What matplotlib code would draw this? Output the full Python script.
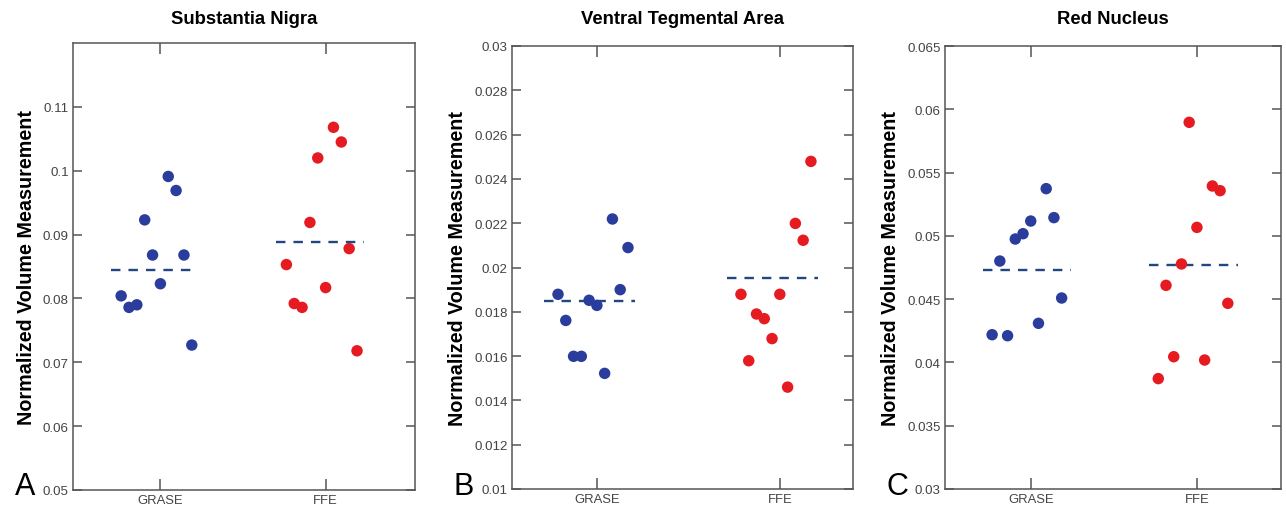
import matplotlib
matplotlib.use("Agg")
import matplotlib.pyplot as plt
import numpy as np

plt.rcParams['font.family'] = ['Liberation Sans', 'DejaVu Sans']

categories = ["GRASE", "FFE"]
titles = ["Substantia Nigra", "Ventral Tegmental Area", "Red Nucleus"]
panel_letters = ["A", "B", "C"]

# Substantia Nigra
sn_grase = [0.0804, 0.0786, 0.0790, 0.0923, 0.0868, 0.0823, 0.0991, 0.0969, 0.0868, 0.0727]
sn_ffe = [0.0853, 0.0792, 0.0786, 0.0919, 0.1020, 0.0817, 0.1068, 0.1045, 0.0878, 0.0718]
sn_lines = [0.0845, 0.0888]
sn_ticks = [0.05, 0.06, 0.07, 0.08, 0.09, 0.1, 0.11]
sn_ticklabels = ["0.05", "0.06", "0.07", "0.08", "0.09", "0.1", "0.11"]

# Ventral Tegmental Area
vta_grase = [0.01879, 0.01761, 0.01599, 0.01599, 0.01852, 0.01829, 0.01522, 0.02219, 0.0190, 0.02090]
vta_ffe = [0.01879, 0.01579, 0.0179, 0.01769, 0.01679, 0.01879, 0.01460, 0.02199, 0.02123, 0.02479]
vta_lines = [0.01849, 0.01953]
vta_ticks = [0.01, 0.012, 0.014, 0.016, 0.018, 0.02, 0.022, 0.024, 0.026, 0.028, 0.03]
vta_ticklabels = ["0.01", "0.012", "0.014", "0.016", "0.018", "0.02", "0.022",
                  "0.024", "0.026", "0.028", "0.03"]

# Red Nucleus
rn_grase = [0.04219, 0.04801, 0.04211, 0.04975, 0.05017, 0.05117, 0.04309, 0.05373, 0.05144, 0.04509]
rn_ffe = [0.03872, 0.04609, 0.04045, 0.04778, 0.05897, 0.05067, 0.04019, 0.05394, 0.05357, 0.04467]
rn_lines = [0.04733, 0.04767]
rn_ticks = [0.03, 0.035, 0.04, 0.045, 0.05, 0.055, 0.06, 0.065]
rn_ticklabels = ["0.03", "0.035", "0.04", "0.045", "0.05", "0.055", "0.06", "0.065"]

panels = [
    dict(g=sn_grase, f=sn_ffe, lines=sn_lines, ticks=sn_ticks, tl=sn_ticklabels,
         ylim=(0.05, 0.12), xlim=(0.471, 2.541), step=0.0475,
         rect=[73/1286, 19/510, 342/1286, 447/510], line_ext=(-0.30, 0.23)),
    dict(g=vta_grase, f=vta_ffe, lines=vta_lines, ticks=vta_ticks, tl=vta_ticklabels,
         ylim=(0.01, 0.03), xlim=(0.536, 2.4), step=0.0425,
         rect=[512/1286, 20/510, 341/1286, 443/510], line_ext=(-0.29, 0.21)),
    dict(g=rn_grase, f=rn_ffe, lines=rn_lines, ticks=rn_ticks, tl=rn_ticklabels,
         ylim=(0.03, 0.065), xlim=(0.484, 2.506), step=0.0465,
         rect=[945/1286, 20/510, 336/1286, 443/510], line_ext=(-0.29, 0.245)),
]

blue = "#2b3d9c"
red = "#e61b22"
dash_col = "#1f4780"
spine_col = "#555555"
tick_col = "#444444"
narrow = ['Liberation Sans Narrow', 'Liberation Sans']

fig = plt.figure(figsize=(12.86, 5.10), dpi=100)
fig.patch.set_facecolor("white")

for i, p in enumerate(panels):
    ax = fig.add_axes(p["rect"])
    n = len(p["g"])
    offs = (np.arange(n) - 5) * p["step"]
    for k, (vals, col) in enumerate([(p["g"], blue), (p["f"], red)]):
        pos = k + 1
        ax.scatter(pos + offs, vals, s=68, color=col, edgecolors="none", zorder=3)
        ax.plot([pos + p["line_ext"][0], pos + p["line_ext"][1]], [p["lines"][k]] * 2,
                color=dash_col, lw=1.7, dashes=(4.0, 3.4), zorder=2)
    ax.set_xlim(*p["xlim"])
    ax.set_ylim(*p["ylim"])
    ax.set_xticks([1, 2])
    ax.set_xticklabels(categories, fontsize=9.4, color=tick_col, family=narrow)
    ax.set_yticks(p["ticks"])
    ax.set_yticklabels(p["tl"], fontsize=9.6, color=tick_col, family=narrow)
    ax.tick_params(axis="y", direction="in", length=6.5, width=1.1, color=spine_col,
                   left=True, right=True, pad=3)
    ax.tick_params(axis="x", direction="in", length=8, width=1.1, color=spine_col,
                   bottom=True, top=True, pad=3)
    for sp in ax.spines.values():
        sp.set_color(spine_col)
        sp.set_linewidth(1.1)
    fig.text(p["rect"][0] + p["rect"][2] / 2, 1 - 19/510, titles[i], fontsize=13.3,
             fontweight="bold", ha="center", va="center")
    ax.set_ylabel("Normalized Volume Measurement", fontsize=14.2, fontweight="bold",
                  labelpad=5)
    fig.text(p["rect"][0] - 58/1286, 8/510, panel_letters[i], fontsize=22,
             ha="left", va="bottom")

fig.savefig("out.png", dpi=100, facecolor="white")
